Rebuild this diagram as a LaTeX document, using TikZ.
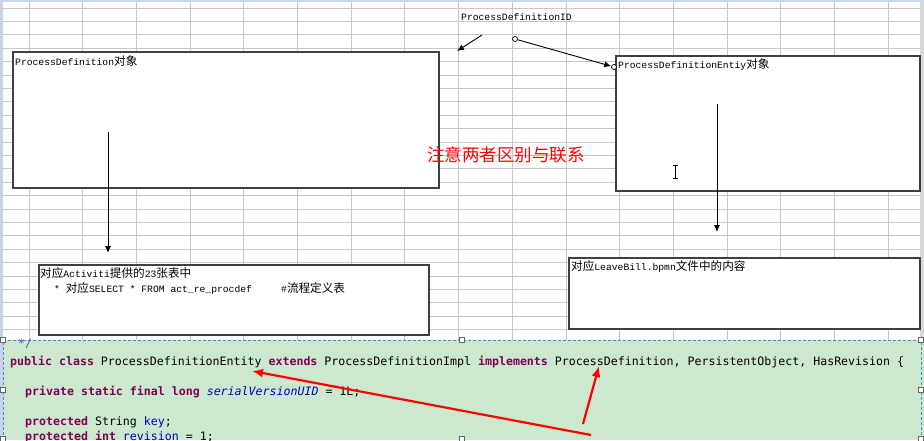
\documentclass[tikz,border=0pt]{standalone}
\usepackage{fontspec}
\usetikzlibrary{arrows.meta}
\newfontfamily\uifont{Liberation Mono}
\newfontfamily\cjkfont{Noto Sans CJK SC}
\newfontfamily\codefont{DejaVu Sans Mono}
\newcommand\zh[1]{{\cjkfont\fontsize{11.6}{12}\selectfont #1}}
\definecolor{gridc}{HTML}{C8C8C8}
\definecolor{sidec}{HTML}{C9D3E3}
\definecolor{topc}{HTML}{C6D6EE}
\definecolor{rightc}{HTML}{D8D8D8}
\definecolor{boxc}{HTML}{404040}
\definecolor{codebg}{HTML}{CCE8CF}
\definecolor{selc}{HTML}{3C8CE6}
\definecolor{kwc}{HTML}{7F0055}
\definecolor{fldc}{HTML}{0000C0}
\definecolor{cmtc}{HTML}{3F5FBF}
\newcommand\kw[1]{\textcolor{kwc}{\bfseries #1}}
\newcommand\fld[1]{\textcolor{fldc}{#1}}
\tikzset{
  panel/.style={draw=boxc, line width=1.2pt, fill=white},
  uitext/.style={anchor=base west, inner sep=0pt, font=\uifont\fontsize{9.7}{11}\selectfont},
  codetext/.style={anchor=base west, inner sep=0pt, font=\codefont\fontsize{11.6}{14}\selectfont},
  blackarrow/.style={draw=black, line width=0.9pt, -{Latex[length=7pt,width=6pt]}},
  redarrow/.style={draw=red, line width=2.2pt, -{Latex[length=11pt,width=9pt]}},
  handle/.style={draw=black!60, fill=white, line width=0.7pt, minimum size=5pt, inner sep=0pt},
  dot/.style={circle, draw=black, fill=white, line width=0.7pt, minimum size=5pt, inner sep=0pt},
}
\begin{document}
\begin{tikzpicture}[x=1pt, y=-1pt]
\useasboundingbox (0,0) rectangle (924,440);
\clip (0,0) rectangle (924,440);
% spreadsheet background
\fill[white] (0,0) rectangle (924,440);
\fill[topc] (0,0) rectangle (924,2);
\fill[sidec] (0,0) rectangle (3,440);
\fill[rightc] (920,0) rectangle (924,340);
\foreach \k in {0,...,24} {
  \draw[gridc, line width=1pt] (3,{8+13.4*\k}) -- (920,{8+13.4*\k});
}
\foreach \k in {0,...,16} {
  \draw[gridc, line width=1pt] ({29+53.7*\k},2) -- ({29+53.7*\k},340);
}
% panels
\path[panel] (13,52) rectangle (439,188);
\path[panel] (616,56) rectangle (920,191);
\path[panel] (39,265) rectangle (429,335);
\path[panel] (569,258) rectangle (920,329);
% texts
\node[uitext] (pdid) at (461,20) {ProcessDefinitionID};
\node[uitext] (t1) at (15,65) {ProcessDefinition\zh{对象}};
\node[uitext] (t2) at (618,68) {ProcessDefinitionEntiy\zh{对象}};
\node[uitext] (t3) at (40,277) {\zh{对应}Activiti\zh{提供的}23\zh{张表中}};
\node[uitext] (t4) at (54,292) {* \zh{对应}SELECT * FROM act\_re\_procdef};
\node[uitext] (t5) at (281,292) {\#\zh{流程定义表}};
\node[uitext] (t6) at (571,270) {\zh{对应}LeaveBill.bpmn\zh{文件中的内容}};
\node[anchor=west, inner sep=0pt, text=red, font=\cjkfont\fontsize{17.5}{18}\selectfont] (note) at (427,155) {注意两者区别与联系};
% black arrows
\coordinate (a1s) at (108,132); \coordinate (a1e) at (108,253);
\draw[blackarrow] (a1s) -- (a1e);
\coordinate (a2s) at (717,104); \coordinate (a2e) at (717,232);
\draw[blackarrow] (a2s) -- (a2e);
\coordinate (a3s) at (482,35); \coordinate (a3e) at (457,51);
\draw[blackarrow] (a3s) -- (a3e);
\node[dot] (c1) at (515,39) {};
\node[dot] (c2) at (614,67) {};
\draw[blackarrow] (c1) -- (c2);
% I-beam cursor
\coordinate (ib1) at (675,165); \coordinate (ib2) at (675,178);
\draw[black, line width=0.8pt] (ib1) -- (ib2);
\draw[black, line width=0.8pt] (672.5,165) -- (677.5,165) (672.5,178) -- (677.5,178);
% code area
\fill[codebg] (3,340) rectangle (924,440);
\draw[selc, dashed, line width=0.8pt, dash pattern=on 3pt off 2pt] (3,440) -- (3,340) -- (921,340) -- (921,440);
\node[codetext, text=cmtc] (cm) at (18,347) {*/};
\node[codetext] (l1) at (10,365) {\kw{public} \kw{class} ProcessDefinitionEntity \kw{extends} ProcessDefinitionImpl \kw{implements} ProcessDefinition, PersistentObject, HasRevision \{};
\node[codetext] (l2) at (25,395) {\kw{private} \kw{static} \kw{final} \kw{long} \fld{\itshape serialVersionUID} = 1L;};
\node[codetext] (l3) at (25,425) {\kw{protected} String \fld{key};};
\node[codetext] (l4) at (25,440) {\kw{protected} \kw{int} \fld{revision} = 1;};
\foreach \p in {(3,340),(462,340),(921,340),(3,390),(921,390),(3,439),(462,439),(921,439)} {
  \node[handle] at \p {};
}
% red arrows
\coordinate (r1s) at (591,435); \coordinate (r1e) at (252,371);
\draw[redarrow] (r1s) -- (r1e);
\coordinate (r2s) at (583,424); \coordinate (r2e) at (599,366);
\draw[redarrow] (r2s) -- (r2e);
\end{tikzpicture}
\end{document}
